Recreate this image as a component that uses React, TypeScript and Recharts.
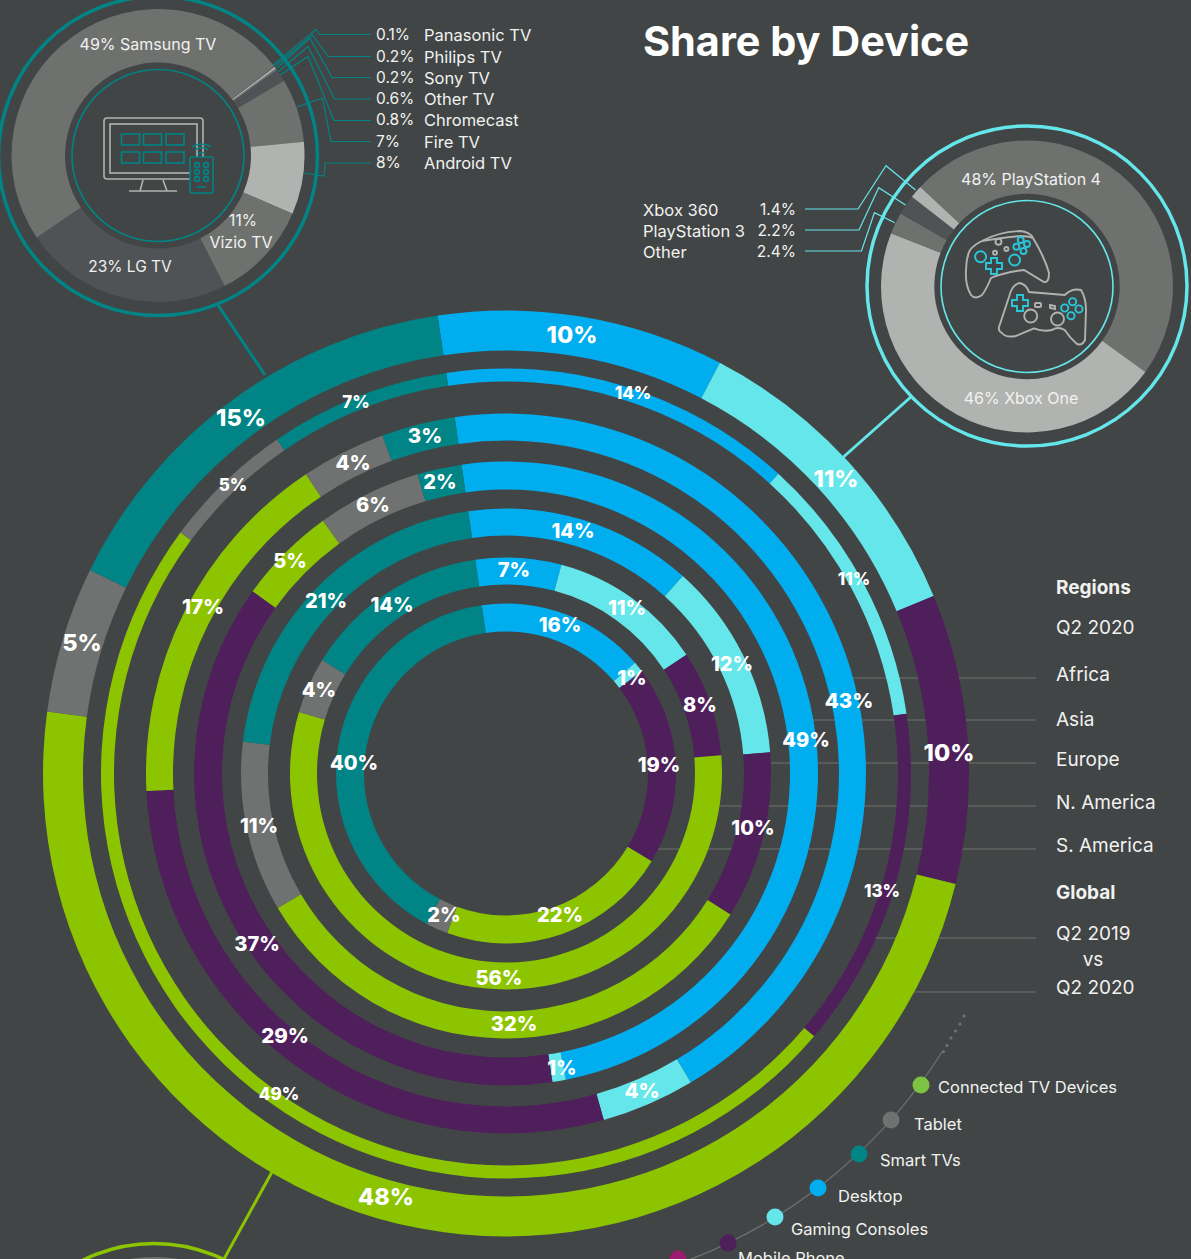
import React from "react";
import { PieChart, Pie } from "recharts";

const BG = "#424546";
const FONT = "Inter, 'Noto Sans', sans-serif";

const devices = ["Desktop", "Gaming Consoles", "Mobile Phone", "Connected TV Devices", "Tablet", "Smart TVs"];
const deviceColors = ["#00AEEF", "#64E6EA", "#4F1F5C", "#8CC500", "#707271", "#008485"];

// share per device, estimated from the arcs (the printed labels are rounded)
const globalQ2_2020 = [10, 11.1, 10.1, 48.3, 5.1, 15.4];
const globalQ2_2019 = [14.1, 10.9, 13.6, 48.9, 5.3, 7.2];
const africa = [43.7, 4.2, 28.6, 16.4, 3.8, 3.3];
const asia = [49.2, 0.7, 37.3, 5.1, 5.4, 2.3];
const europe = [13.9, 12.1, 10.2, 32.6, 10.4, 20.8];
const nAmerica = [6.4, 11.6, 7.9, 55.9, 4.2, 13.9];
const sAmerica = [16, 1, 18.9, 22, 2.1, 40];

const printedLabels = [
  [10, 11, 10, 48, 5, 15],
  [14, 11, 13, 49, 5, 7],
  [43, 4, 29, 17, 4, 3],
  [49, 1, 37, 5, 6, 2],
  [14, 12, 10, 32, 11, 21],
  [7, 11, 8, 56, 4, 14],
  [16, 1, 19, 22, 2, 40],
];

const ringValues = [globalQ2_2020, globalQ2_2019, africa, asia, europe, nAmerica, sAmerica];
const ringRadii = [[423, 463], [392, 405], [333, 360], [284, 312], [238, 265], [189, 216], [142, 170]];
const ringStarts = [98.5, 98.5, 98.2, 98.2, 98.2, 98.2, 98.2];
const ringFontSizes = [23.5, 17, 20.5, 20, 20, 20, 20];
// hand placed label centres, the original does not keep them on the ring midline
const labelSpots = [
  [[572, 335], [836, 479], [949, 753], [386, 1197], [82, 643], [241, 418]],
  [[633, 393], [854, 579], [882, 891], [279, 1094], [233, 485], [356, 402]],
  [[849, 701], [642, 1091], [285, 1036], [203, 607], [353, 463], [425, 436]],
  [[806, 740], [562, 1068], [257, 944], [290, 561], [373, 505], [440, 482]],
  [[573, 531], [732, 664], [753, 828], [514, 1024], [259, 826], [326, 601]],
  [[514, 570], [627, 608], [700, 705], [499, 978], [319, 690], [392, 605]],
  [[560, 625], [632, 678], [659, 765], [560, 915], [444, 915], [354, 763]],
];

const tvNames = ["Panasonic TV", "Philips TV", "Sony TV", "Other TV", "Chromecast", "Fire TV", "Android TV", "Vizio TV", "LG TV", "Samsung TV"];
const tvShares = [0.1, 0.2, 0.2, 0.6, 0.8, 7, 8, 11, 23, 49];
const tvColors = ["#6F716F", "#B1B3B0", "#6F716F", "#505355", "#505355", "#6F716F", "#B1B3B0", "#6F716F", "#505355", "#6F716F"];

const consoleNames = ["PlayStation 4", "Xbox One", "Other", "PlayStation 3", "Xbox 360"];
const consoleShares = [48, 46, 2.4, 2.2, 1.4];
const consoleColors = ["#6F716F", "#B1B3B0", "#6F716F", "#505355", "#B1B3B0"];

const tvList = [["0.1%", "Panasonic TV"], ["0.2%", "Philips TV"], ["0.2%", "Sony TV"], ["0.6%", "Other TV"], ["0.8%", "Chromecast"], ["7%", "Fire TV"], ["8%", "Android TV"]];
const tvListY = [35, 57, 78, 99, 120, 142, 163];
const tvLeaders = [
  "371,34.5 320,34.5 316,29.5 273,65",
  "371,56.5 328,56.5 312.5,35 275,66",
  "371,77.5 332,77.5 310,38 277,68",
  "371,99 334.5,99 308,46.5 278.5,71.5",
  "371,120.5 334,120.5 308,56.5 280,75",
  "371,141.5 331,141.5 322.5,98 297,107",
  "371,163 325,163 324,176 303.5,173",
];
const consoleList = [["Xbox 360", "1.4%"], ["PlayStation 3", "2.2%"], ["Other", "2.4%"]];
const consoleListY = [210, 231, 252];
const consoleLeaders = [
  "805,209 858,209 886,165.7 915.5,190",
  "805,230 859,230 878.7,187.7 905.5,205",
  "805,251 861.5,251 874.4,212.7 894.8,222.7",
];

const regionRows = [["Q2 2020", 627], ["Africa", 674], ["Asia", 719], ["Europe", 759], ["N. America", 802], ["S. America", 845], ["Q2 2019", 933], ["Q2 2020", 987]];
const guideLines = [[853, 678], [813, 720], [771, 763], [719, 806], [658, 849], [876, 938], [914, 992]];

const legendItems = [
  ["Connected TV Devices", "#7DC242", 921, 1085, 938, 1087],
  ["Tablet", "#707271", 891, 1120, 914, 1124],
  ["Smart TVs", "#008485", 859, 1154, 880, 1160],
  ["Desktop", "#00AEEF", 818, 1188, 838, 1196],
  ["Gaming Consoles", "#64E6EA", 775, 1217, 791, 1229],
  ["Mobile Phone", "#4F1F5C", 728, 1243, 738, 1258],
  ["", "#9B1B6E", 678, 1259, 0, 0],
];
const legendFade = [[964, 1016], [960, 1024], [955.5, 1031], [951, 1038], [947, 1045.5], [943.5, 1051.5]];

const Txt = ({ x, y, size = 16.5, weight = 400, anchor = "start", fill = "#F1F2F0", children }: any) => (
  <text x={x} y={y} dy="0.35em" fontSize={size} fontWeight={weight} textAnchor={anchor} fill={fill} fontFamily={FONT}>
    {children}
  </text>
);

function ringRows(r: number) {
  return ringValues[r].map((value, i) => ({
    name: devices[i],
    value,
    fill: deviceColors[i],
  }));
}

const ringLabel = (r: number) => (props: any) => {
  const [x, y] = labelSpots[r][props.index];
  return (
    <text x={x} y={y} dy="0.36em" textAnchor="middle" fontSize={ringFontSizes[r]} fontWeight={800} fill="#fff" fontFamily={FONT}>
      {printedLabels[r][props.index]}%
    </text>
  );
};

function TvIcon() {
  const grey = "#B1B3B0";
  const teal = "#008485";
  return (
    <g fill="none" strokeWidth={1.6}>
      <rect x={104} y={118} width={99} height={61} rx={3} stroke={grey} />
      <rect x={110} y={124} width={87} height={49} stroke={grey} />
      <path d="M143 180 L140 191 M163 180 L167 191 M129 191 H177" stroke={grey} />
      {[121.5, 143.5, 166].map((x) =>
        [134, 152].map((y) => <rect key={`${x}-${y}`} x={x} y={y} width={18} height={11} stroke={teal} />)
      )}
      <rect x={190} y={157} width={23} height={36} rx={2} stroke={teal} fill={BG} />
      {[165, 172, 179].map((y) =>
        [197, 206].map((x) => <circle key={`${x}-${y}`} cx={x} cy={y} r={2.4} stroke={teal} />)
      )}
      <path d="M197 187 H206 M198 154 Q201.5 151 205 154 M195 150 Q201.5 145 208 150 M192 147 Q201.5 141 211 147" stroke={teal} />
    </g>
  );
}

function ConsoleIcons() {
  const grey = "#B1B3B0";
  const cyan = "#2BC6DA";
  return (
    <g fill="none" strokeWidth={1.9}>
      <path d="M982 241 Q998 232 1020 231 Q1030 232 1033 238 Q1045 258 1049 273 Q1049 283 1044 282 Q1034 276 1024 270 Q1005 272 991 278 Q986 290 982 295 Q975 300 971 295 Q965 285 966 270 Q966 258 970 250 Q975 244 982 241Z" stroke={grey} />
      <path d="M982 241 Q998 238 1020 236 Q1028 236 1033 238" stroke={grey} />
      <circle cx={998.5} cy={241.7} r={3} stroke={grey} />
      <circle cx={995} cy={252.7} r={2} stroke={grey} />
      <circle cx={1006.4} cy={249} r={2} stroke={grey} />
      <circle cx={980.6} cy={256.7} r={5.5} stroke={cyan} />
      <circle cx={1014.6} cy={260} r={5.5} stroke={cyan} />
      {[[1020.7, 240], [1027, 244], [1016.4, 246.7], [1023.5, 251]].map(([x, y]) => (
        <circle key={x} cx={x} cy={y} r={3} stroke={cyan} />
      ))}
      <path d="M991 258 h6 v5 h5 v6 h-5 v5 h-6 v-5 h-5 v-6 h5z" stroke={cyan} />

      <path d="M1020 283 Q1027 285 1029 292 L1064.7 295 Q1072 288 1081 290 Q1086 298 1086 310 L1085 340 Q1082 346 1077 344 Q1070 338 1064.7 330 Q1058 326 1052 330 Q1043 332 1034 328.3 Q1025 332 1016 336 Q1006 338 1002 333 Q998 331 999 327 L1009 297 Q1012 284 1020 283Z" stroke={grey} />
      <circle cx={1030.7} cy={316} r={6.5} stroke={grey} />
      <circle cx={1057.5} cy={319} r={6.5} stroke={grey} />
      <rect x={1035} y={303} width={6} height={4} stroke={grey} rx={1} />
      <path d="M1050 305 L1055 306 L1055 309 L1050 308Z" stroke={grey} />
      <path d="M1017 295 h6 v5 h5 v6 h-5 v5 h-6 v-5 h-5 v-6 h5z" stroke={cyan} />
      {[[1072.6, 301.7], [1079, 309], [1071, 315.7], [1064.7, 308]].map(([x, y]) => (
        <circle key={x} cx={x} cy={y} r={3.6} stroke={cyan} />
      ))}
    </g>
  );
}

export default function App() {
  return (
    <div style={{ position: "absolute", left: 0, top: 0, width: 1191, height: 1259, overflow: "hidden", background: BG }}>
      <svg width={1191} height={1259} style={{ position: "absolute", left: 0, top: 0 }}>
        {guideLines.map(([x, y]) => (
          <line key={y} x1={x} x2={1036} y1={y} y2={y} stroke="#707271" strokeWidth={1.2} />
        ))}
        <path d="M942 1052 A519 519 0 0 1 660 1270" fill="none" stroke="#707271" strokeWidth={1.2} />
        {legendFade.map(([x, y]) => (
          <circle key={y} cx={x} cy={y} r={1.6} fill="#707271" />
        ))}
        <line x1={265} y1={375} x2={218} y2={305} stroke="#008485" strokeWidth={3} />
        <line x1={840} y1={460} x2={912} y2={396} stroke="#64E6EA" strokeWidth={3} />
        <line x1={272} y1={1172} x2={224} y2={1259} stroke="#8CC500" strokeWidth={3} />
      </svg>

      <div style={{ position: "absolute", left: 0, top: 0 }}>
        <PieChart width={1191} height={1259} margin={{ top: 0, right: 0, bottom: 0, left: 0 }}>
          {ringValues.map((_, r) => (
            <Pie
              key={r}
              data={ringRows(r)}
              dataKey="value"
              nameKey="name"
              cx={506}
              cy={773.5}
              innerRadius={ringRadii[r][0]}
              outerRadius={ringRadii[r][1]}
              startAngle={ringStarts[r]}
              endAngle={ringStarts[r] - 360}
              stroke="none"
              label={ringLabel(r)}
              labelLine={false}
              isAnimationActive={false}
            />
          ))}
          <Pie
            data={tvShares.map((value, i) => ({ name: tvNames[i], value, fill: tvColors[i] }))}
            dataKey="value"
            nameKey="name"
            cx={158}
            cy={155.5}
            innerRadius={93}
            outerRadius={146.5}
            startAngle={37.5}
            endAngle={-322.5}
            stroke="none"
            isAnimationActive={false}
          />
          <Pie
            data={consoleShares.map((value, i) => ({ name: consoleNames[i], value, fill: consoleColors[i] }))}
            dataKey="value"
            nameKey="name"
            cx={1027}
            cy={286.5}
            innerRadius={92.7}
            outerRadius={146}
            startAngle={137}
            endAngle={-223}
            stroke="none"
            isAnimationActive={false}
          />
          <Pie
            data={[{ name: "Connected TV Devices", value: 100, fill: "#6F716F" }]}
            dataKey="value"
            cx={154}
            cy={1403}
            innerRadius={93}
            outerRadius={146}
            stroke="none"
            isAnimationActive={false}
          />
        </PieChart>
      </div>

      <svg width={1191} height={1259} style={{ position: "absolute", left: 0, top: 0 }}>
        <circle cx={158} cy={156} r={159.5} fill="none" stroke="#008485" strokeWidth={3.5} />
        <circle cx={158} cy={155.5} r={86} fill="none" stroke="#008485" strokeWidth={1.6} />
        <circle cx={1027} cy={286} r={160} fill="none" stroke="#64E6EA" strokeWidth={3.5} />
        <circle cx={1027} cy={286.5} r={86} fill="none" stroke="#64E6EA" strokeWidth={1.6} />
        <circle cx={154} cy={1403} r={159.5} fill="none" stroke="#8CC500" strokeWidth={3.5} />

        {tvLeaders.map((p) => (
          <polyline key={p} points={p} fill="none" stroke="#008485" strokeWidth={1.2} />
        ))}
        {consoleLeaders.map((p) => (
          <polyline key={p} points={p} fill="none" stroke="#64E6EA" strokeWidth={1.2} />
        ))}

        <TvIcon />
        <ConsoleIcons />

        <Txt x={643} y={42} size={41.4} weight={700} fill="#fff">Share by Device</Txt>

        {tvList.map(([pct, name], i) => (
          <g key={name}>
            <Txt x={376} y={tvListY[i]} size={15.5}>{pct}</Txt>
            <Txt x={424} y={tvListY[i]}>{name}</Txt>
          </g>
        ))}
        <Txt x={148} y={44} anchor="middle" size={16}>49% Samsung TV</Txt>
        <Txt x={130} y={267} anchor="middle" size={15.5}>23% LG TV</Txt>
        <Txt x={243} y={221} anchor="middle" size={15.5}>11%</Txt>
        <Txt x={241} y={242} anchor="middle" size={16}>Vizio TV</Txt>

        {consoleList.map(([name, pct], i) => (
          <g key={name}>
            <Txt x={643} y={consoleListY[i]}>{name}</Txt>
            <Txt x={796} y={consoleListY[i]} anchor="end" size={15.5}>{pct}</Txt>
          </g>
        ))}
        <Txt x={1031} y={179} anchor="middle" size={16}>48% PlayStation 4</Txt>
        <Txt x={1021} y={398} anchor="middle" size={16}>46% Xbox One</Txt>

        <Txt x={1056} y={587} size={19} weight={700}>Regions</Txt>
        <Txt x={1056} y={892} size={19} weight={700}>Global</Txt>
        {regionRows.map(([name, y]) => (
          <Txt key={`${name}${y}`} x={1056} y={y} size={19}>{name}</Txt>
        ))}
        <Txt x={1093} y={959} size={19} anchor="middle">vs</Txt>

        {legendItems.map(([name, color, cx, cy, tx, ty]: any) => (
          <g key={color}>
            <circle cx={cx} cy={cy} r={8.5} fill={color} />
            {name ? <Txt x={tx} y={ty}>{name}</Txt> : null}
          </g>
        ))}
      </svg>
    </div>
  );
}
